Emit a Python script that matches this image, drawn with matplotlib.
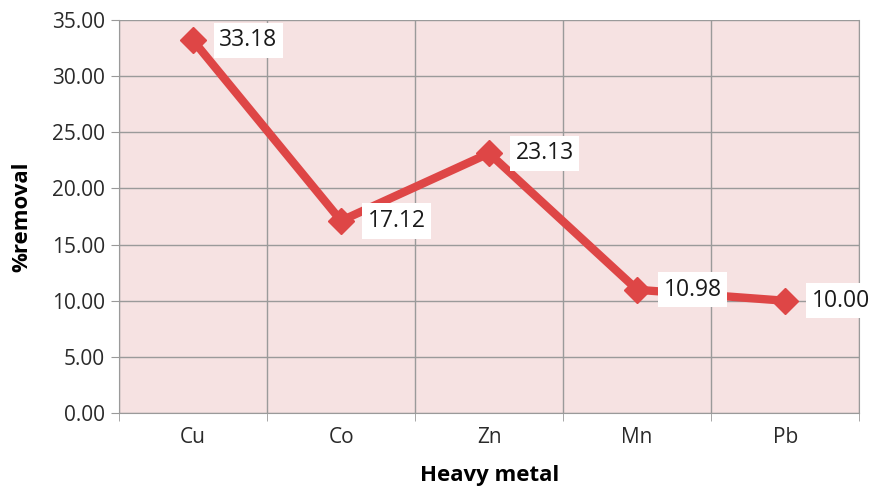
import matplotlib.pyplot as plt
import numpy as np

# Removal efficiency per metal
metals = ['Cu', 'Co', 'Zn', 'Mn', 'Pb']
removal = [33.18, 17.12, 23.13, 10.98, 10.00]
yticks = [0, 5, 10, 15, 20, 25, 30, 35]

plt.rcParams['font.family'] = ['Open Sans', 'DejaVu Sans']

fig = plt.figure(figsize=(8.75, 4.86), dpi=100)
ax = fig.add_axes([0.136, 0.150, 0.846, 0.809])
ax.set_facecolor('#f6e2e2')

x = np.arange(len(metals))
ax.plot(x, removal, color='#de4646', lw=6, marker='D', markersize=13, zorder=3)

for xi, v in zip(x, removal):
    ax.annotate(f'{v:.2f}', (xi, v), xytext=(19, 0), textcoords='offset points',
                ha='left', va='center', fontsize=16.5, color='#1a1a1a', zorder=4,
                bbox=dict(boxstyle='square,pad=0.25', fc='white', ec='none'))

ax.set_xlim(-0.5, len(metals) - 0.5)
ax.set_ylim(0, 35)
ax.set_xticks(x)
ax.set_xticklabels(metals, fontsize=15, color='#2a2a2a')
ax.set_xticks(np.arange(len(metals) + 1) - 0.5, minor=True)
ax.tick_params(axis='x', which='major', length=0, pad=10)
ax.tick_params(axis='x', which='minor', length=6, color='#999999')
ax.set_yticks(yticks)
ax.set_yticklabels([f'{t:.2f}' for t in yticks], fontsize=15, color='#2a2a2a')
ax.tick_params(axis='y', length=6, color='#999999', pad=4)

ax.grid(True, axis='y', which='major', color='#9a9a9a', lw=1)
ax.grid(True, axis='x', which='minor', color='#9a9a9a', lw=1)
ax.set_axisbelow(True)
ax.spines['top'].set_visible(False)
for s in ['left', 'bottom', 'right']:
    ax.spines[s].set_color('#9a9a9a')

ax.set_ylabel('%removal', fontsize=16, fontweight='bold', labelpad=14)
ax.set_xlabel('Heavy metal', fontsize=16, fontweight='bold', labelpad=12.5)

fig.savefig('out.png', dpi=100)
